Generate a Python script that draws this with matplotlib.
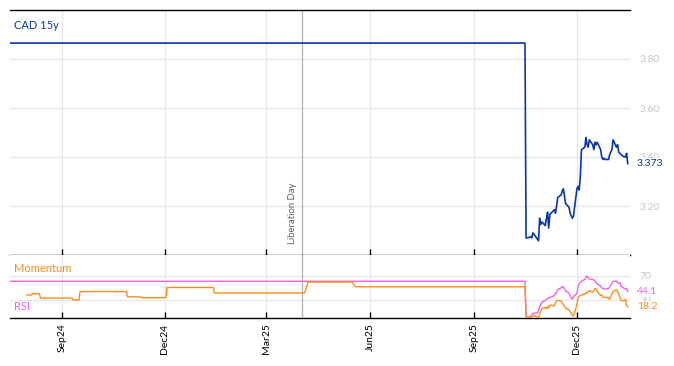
import numpy as np
import pandas as pd
import matplotlib
matplotlib.use("Agg")
import matplotlib.pyplot as plt
import matplotlib.transforms as mtransforms

plt.rcParams['font.family'] = ['Lato', 'DejaVu Sans']

# ---------------- data ----------------
flat_start = "2024-07-17"
flat_end = "2025-10-16"
cad_flat_level = 3.865
tail_start = "2025-10-17"

cad_tail = [3.069, 3.072, 3.075, 3.07, 3.09, 3.085, 3.065, 3.058, 3.15, 3.125,
            3.135, 3.12, 3.15, 3.175, 3.11, 3.165, 3.18, 3.185, 3.17, 3.20,
            3.235, 3.245, 3.26, 3.27, 3.24, 3.21, 3.195, 3.17, 3.16, 3.15,
            3.16, 3.27, 3.28, 3.265, 3.32, 3.43, 3.44, 3.48, 3.45, 3.44,
            3.47, 3.45, 3.43, 3.46, 3.45, 3.46, 3.43, 3.40, 3.39, 3.395,
            3.39, 3.39, 3.41, 3.42, 3.43, 3.47, 3.44, 3.45, 3.42, 3.415,
            3.41, 3.40, 3.40, 3.415, 3.373]

rsi_flat_level = 61.0
rsi_tail = [1, 1, 2.5, 5, 7, 7.5, 8, 12, 18, 22,
            26, 29, 31, 32, 33, 34, 36, 38, 40, 42.5,
            47, 50, 52.5, 51, 49, 45, 41, 37, 33, 31,
            35, 41, 51, 57, 59, 61, 64, 68, 70, 67,
            65, 64, 63, 61, 59, 57, 53, 50, 49, 48,
            48, 49, 51, 54, 58, 61, 61, 58, 58, 59,
            52, 49, 48, 49, 44.1]

mom_step_dates = ["2024-08-01", "2024-08-06", "2024-08-13", "2024-09-11", "2024-09-17",
                  "2024-10-29", "2024-11-11", "2024-12-03", "2025-01-14", "2025-04-07",
                  "2025-05-19"]
mom_step_levels = [38, 40, 33, 29.5, 43.8, 35, 33.5, 50.6, 41.5, 59.7, 51.8]
mom_tail = [0, 0, 1, 2, 1, 4, 1, 0, 6, 11,
            15, 17, 15, 19, 16, 21, 20, 20, 25, 28,
            29, 28, 25, 22, 19, 16, 13, 10, 7, 4,
            3, 22, 33, 36, 37, 38, 40, 42, 41, 44,
            45, 43, 45, 49, 48, 44, 37, 38, 35, 34,
            34, 33, 31, 35, 40, 44, 47, 44, 40, 35,
            29, 28, 31, 20, 18.2]

event_date = "2025-04-02"
event_label = "Liberation Day"
tick_dates = ["2024-09-01", "2024-12-01", "2025-03-01", "2025-06-01", "2025-09-01", "2025-12-01"]
tick_labels = ["Sep24", "Dec24", "Mar25", "Jun25", "Sep25", "Dec25"]

# ---------------- series ----------------
flat_idx = pd.bdate_range(flat_start, flat_end)
tail_idx = pd.bdate_range(start=tail_start, periods=len(cad_tail))
idx = flat_idx.append(tail_idx)
cad = np.concatenate([np.full(len(flat_idx), cad_flat_level), cad_tail])
rsi = np.concatenate([np.full(len(flat_idx), rsi_flat_level), rsi_tail])

mom_idx_flat = flat_idx[flat_idx >= pd.Timestamp(mom_step_dates[0])]
sd = pd.to_datetime(mom_step_dates).values
pos = np.searchsorted(sd, mom_idx_flat.values, side="right") - 1
mom_flat = np.array(mom_step_levels)[pos]
mom_idx = mom_idx_flat.append(tail_idx)
mom = np.concatenate([mom_flat, mom_tail])

# ---------------- colours ----------------
c_blue = "#0b36a6"
c_pink = "#f75ee0"
c_orange = "#ff8c1a"
c_grid = "#e6e6e6"
c_tick = "#c8c8c8"

W, H = 674, 366
fig = plt.figure(figsize=(W / 100, H / 100), dpi=100)
L, R = 10 / W, 630 / W
ax1 = fig.add_axes([L, 1 - 255 / H, R - L, (255 - 10) / H])
ax2 = fig.add_axes([L, 1 - 318 / H, R - L, (318 - 255) / H], sharex=ax1)

xmin, xmax = pd.Timestamp("2024-07-17"), pd.Timestamp("2026-01-17")
xt = pd.to_datetime(tick_dates)

for ax in (ax1, ax2):
    ax.set_facecolor("white")
    for s in ("left", "right"):
        ax.spines[s].set_visible(False)
    ax.spines["bottom"].set_color("black")
    ax.spines["top"].set_color("black")
    ax.spines["bottom"].set_linewidth(1.0)
    ax.spines["top"].set_linewidth(1.0)
    ax.yaxis.tick_right()
    ax.tick_params(axis="y", length=0, pad=7, labelcolor=c_tick, labelsize=7.5)
    ax.tick_params(axis="x", direction="in", length=4, width=1, color="black")
    ax.grid(True, color=c_grid, linewidth=0.8)
    ax.set_axisbelow(True)
    ax.axvline(pd.Timestamp(event_date), color="#b0b0b0", linewidth=0.9, zorder=1)

ax2.spines["top"].set_visible(False)

label_box = dict(boxstyle="square,pad=0.1", fc="white", ec="none", alpha=0.85)

# top panel
ax1.plot(idx, cad, color=c_blue, linewidth=1.2, zorder=3)
ax1.set_ylim(3.0, 4.0)
ax1.set_yticks([3.2, 3.4, 3.6, 3.8])
ax1.set_yticklabels(["3.20", "3.40", "3.60", "3.80"])
ax1.set_xlim(xmin, xmax)
ax1.set_xticks(xt)
ax1.tick_params(axis="x", labelbottom=False)
ax1.text(0.006, 0.935, "CAD 15y", transform=ax1.transAxes, color=c_blue,
         fontsize=8, ha="left", va="center")
tr1 = mtransforms.blended_transform_factory(ax1.transAxes, ax1.transData) + \
    mtransforms.ScaledTranslation(7 / 100, 0, fig.dpi_scale_trans)
ax1.text(1.0, cad[-1], f"{cad[-1]:.3f}", transform=tr1, color=c_blue, fontsize=7.5,
         ha="left", va="center", bbox=label_box, zorder=5, clip_on=False)
ax1.text(pd.Timestamp(event_date) - pd.Timedelta(days=9), 3.045, event_label, rotation=90,
         color="#606060", fontsize=6.8, ha="center", va="bottom")

# bottom panel
ax2.plot(idx, rsi, color=c_pink, linewidth=1.0, zorder=3)
ax2.plot(mom_idx, mom, color=c_orange, linewidth=1.0, zorder=3)
ax2.set_ylim(-0.5, 105)
ax2.set_yticks([30, 70])
ax2.set_yticklabels(["30", "70"])
ax2.set_xticks(xt)
ax2.set_xticklabels(tick_labels, rotation=90, fontsize=7.5)
ax2.tick_params(axis="x", pad=4)
ax2.text(0.006, 0.78, "Momentum", transform=ax2.transAxes, color=c_orange,
         fontsize=8, ha="left", va="center")
ax2.text(0.006, 0.18, "RSI", transform=ax2.transAxes, color=c_pink,
         fontsize=8, ha="left", va="center")
tr2 = mtransforms.blended_transform_factory(ax2.transAxes, ax2.transData) + \
    mtransforms.ScaledTranslation(7 / 100, 0, fig.dpi_scale_trans)
ax2.text(1.0, rsi[-1], f"{rsi[-1]:.1f}", transform=tr2, color=c_pink, fontsize=7.5,
         ha="left", va="center", bbox=label_box, zorder=5, clip_on=False)
ax2.text(1.0, mom[-1], f"{mom[-1]:.1f}", transform=tr2, color=c_orange, fontsize=7.5,
         ha="left", va="center", bbox=label_box, zorder=5, clip_on=False)

fig.savefig("out.png", dpi=100)
